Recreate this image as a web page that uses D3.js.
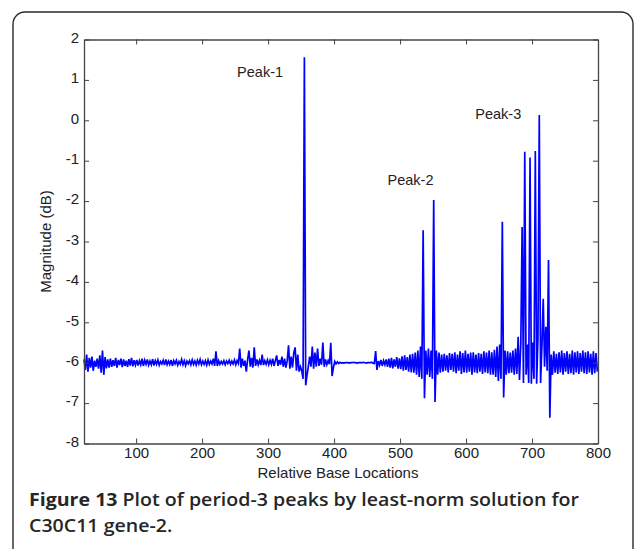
<!DOCTYPE html>
<html>
<head>
<meta charset="utf-8">
<script src="https://cdn.jsdelivr.net/npm/d3@7"></script>
<style>
  body { margin: 0; background: #fff; }
  svg { display: block; }
</style>
</head>
<body>
<svg id="fig" width="635" height="549"></svg>
<script>

// relative base locations are sampled every 2 bases from 21 to 799
let firstBase = 21, baseStep = 2;

// magnitude (dB), one value per sampled base location
let magnitude = [
    // 21 - 59
    -5.92,-6.18,-5.80,-6.22,-5.88,-6.12,-5.85,-6.20,-5.95,-6.10,
    -5.90,-6.15,-5.82,-6.25,-5.70,-6.30,-5.86,-6.14,-5.92,-6.12,
    // 61 - 99
    -5.90,-6.10,-5.94,-6.08,-5.88,-6.12,-5.93,-6.06,-5.90,-6.11,
    -5.92,-6.08,-5.95,-6.10,-5.91,-6.07,-5.88,-6.09,-5.94,-6.06,
    // 101 - 139
    -5.93,-6.07,-5.95,-6.05,-5.90,-6.08,-5.94,-6.04,-5.92,-6.06,
    -5.96,-6.05,-5.91,-6.07,-5.95,-6.04,-5.93,-6.06,-5.97,-6.03,
    // 141 - 179
    -5.94,-6.06,-5.92,-6.05,-5.96,-6.04,-5.93,-6.08,-5.95,-6.03,
    -5.94,-6.06,-5.97,-6.04,-5.92,-6.05,-5.95,-6.07,-5.96,-6.03,
    // 181 - 219
    -5.95,-6.05,-5.93,-6.04,-5.96,-6.06,-5.94,-6.03,-5.92,-6.05,
    -5.96,-6.04,-5.95,-6.06,-5.93,-6.04,-5.96,-6.03,-5.90,-6.08,
    // 221 - 259
    -5.72,-6.08,-5.95,-6.04,-5.97,-6.03,-5.95,-6.05,-5.96,-6.02,
    -5.94,-6.04,-5.96,-6.03,-5.93,-6.05,-5.95,-6.02,-5.65,-6.12,
    // 261 - 299
    -5.90,-6.08,-5.95,-6.22,-5.92,-5.70,-6.10,-5.88,-6.12,-5.62,
    -6.08,-5.92,-6.05,-5.94,-6.06,-5.80,-6.06,-5.95,-6.04,-5.93,
    // 301 - 339
    -6.05,-5.94,-6.04,-5.90,-6.08,-5.95,-5.82,-6.08,-5.93,-6.05,
    -5.85,-6.10,-5.90,-6.12,-5.95,-5.57,-6.15,-5.85,-6.12,-5.75,
    // 341 - 379 (peak-1)
    -5.62,-6.20,-5.80,-6.22,-6.10,-6.20,-6.40, 1.56,-6.56,-6.30,
    -6.10,-5.85,-6.10,-5.60,-6.15,-5.75,-6.10,-5.65,-6.08,-5.90,
    // 381 - 419
    -6.05,-5.50,-6.10,-5.92,-6.05,-5.95,-6.04,-5.51,-6.33,-6.12,
    -5.97,-6.03,-5.98,-6.02,-5.99,-6.01,-6.00,-6.01,-6.00,-6.00,
    // 421 - 459
    -6.00,-6.01,-6.00,-6.00,-5.99,-6.00,-6.00,-6.01,-6.00,-6.00,
    -6.00,-6.00,-5.99,-6.00,-6.01,-6.00,-6.00,-6.00,-5.99,-6.01,
    // 461 - 499
    -6.02,-5.71,-6.18,-5.96,-6.06,-5.93,-6.08,-5.95,-6.05,-5.92,
    -6.10,-5.90,-6.12,-5.88,-6.14,-5.92,-6.10,-5.86,-6.15,-5.89,
    // 501 - 539 (peak-2)
    -6.16,-5.84,-6.20,-5.82,-6.18,-5.86,-6.22,-5.80,-6.24,-5.78,
    -6.25,-5.75,-6.30,-5.70,-6.35,-5.60,-6.40,-2.72,-6.88,-5.70,
    // 541 - 579
    -6.30,-5.65,-6.35,-5.70,-6.40,-1.97,-6.97,-5.70,-6.30,-5.75,
    -6.25,-5.80,-6.22,-5.78,-6.20,-5.82,-6.24,-5.76,-6.18,-5.78,
    // 581 - 619
    -6.22,-5.74,-6.26,-5.80,-6.20,-5.72,-6.28,-5.76,-6.24,-5.70,
    -6.25,-5.78,-6.22,-5.75,-6.30,-5.74,-6.24,-5.80,-6.26,-5.76,
    // 621 - 659
    -6.22,-5.78,-6.28,-5.72,-6.24,-5.75,-6.26,-5.70,-6.30,-5.74,
    -6.30,-5.68,-6.35,-5.60,-6.45,-5.55,-6.40,-2.51,-6.86,-5.70,
    // 661 - 699 (peak-3)
    -6.30,-5.72,-6.26,-5.75,-6.25,-5.70,-6.30,-5.65,-6.28,-5.36,
    -6.43,-5.55,-2.64,-6.50,-0.78,-6.30,-5.55,-6.50,-0.92,-6.52,
    // 701 - 739
    -5.50,-6.40,-0.76,-6.52,-5.40, 0.13,-6.50,-5.60,-4.42,-6.10,
    -5.11,-6.20,-3.46,-7.36,-5.80,-6.30,-5.72,-6.25,-5.78,-6.28,
    // 741 - 779
    -5.74,-6.24,-5.70,-6.30,-5.76,-6.22,-5.72,-6.28,-5.78,-6.26,
    -5.70,-6.30,-5.74,-6.24,-5.72,-6.28,-5.76,-6.22,-5.70,-6.26,
    // 781 - 799
    -5.74,-6.28,-5.72,-6.24,-5.78,-6.30,-5.72,-6.26,-5.76,-6.22
];

let xTicks = [100, 200, 300, 400, 500, 600, 700, 800];
let yTicks = [-8, -7, -6, -5, -4, -3, -2, -1, 0, 1, 2];

let peakNames = ['Peak-1', 'Peak-2', 'Peak-3'];
let peakAnchorBase = [253, 481, 614];
let peakAnchorMag = [1.19, -1.48, 0.15];

let xTitle = 'Relative Base Locations';
let yTitle = 'Magnitude (dB)';
let captionBold = 'Figure 13';
let captionRest = ' Plot of period-3 peaks by least-norm solution for';
let captionLine2 = 'C30C11 gene-2.';

main();

function main() {
    let svg = d3.select('#fig');
    let box = {left: 84, right: 598, top: 39.5, bottom: 443.5};

    let x = d3.scaleLinear().domain([21, 800]).range([box.left, box.right]);
    let y = d3.scaleLinear().domain([-8, 2]).range([box.bottom, box.top]);

    let points = magnitude.map((m, i) => ({base: firstBase + i*baseStep, mag: m}));

    // frame round figure
    svg.append('rect')
        .attr('x', 13).attr('y', 12)
        .attr('width', 620).attr('height', 580)
        .attr('rx', 12)
        .attr('fill', 'none')
        .attr('stroke', '#2a2a2a')
        .attr('stroke-width', 1.4);

    let line = d3.line().x(d => x(d.base)).y(d => y(d.mag));
    svg.append('path')
        .datum(points)
        .attr('d', line)
        .attr('fill', 'none')
        .attr('stroke', '#0000ff')
        .attr('stroke-width', 1.7)
        .attr('stroke-linejoin', 'miter');

    const font = '"Liberation Sans", Arial, Helvetica, sans-serif';
    const axisColor = '#444';
    const plain = d => String(d);   // keep the hyphen minus of the original

    // axes, ticks pointing in, on all four sides
    let bottomAxis = d3.axisBottom(x).tickValues(xTicks).tickSizeInner(-5).tickSizeOuter(0).tickPadding(4).tickFormat(plain);
    let topAxis = d3.axisTop(x).tickValues(xTicks).tickSizeInner(-5).tickSizeOuter(0).tickFormat('');
    let leftAxis = d3.axisLeft(y).tickValues(yTicks).tickSizeInner(-5).tickSizeOuter(0).tickPadding(5).tickFormat(plain);
    let rightAxis = d3.axisRight(y).tickValues(yTicks).tickSizeInner(-5).tickSizeOuter(0).tickFormat('');

    let axes = [
        svg.append('g').attr('transform', `translate(0,${box.bottom})`).call(bottomAxis),
        svg.append('g').attr('transform', `translate(0,${box.top})`).call(topAxis),
        svg.append('g').attr('transform', `translate(${box.left},0)`).call(leftAxis),
        svg.append('g').attr('transform', `translate(${box.right},0)`).call(rightAxis)
    ];
    axes.forEach(g => {
        g.select('.domain').attr('stroke', axisColor).attr('stroke-width', 1.3);
        g.selectAll('.tick line').attr('stroke', axisColor).attr('stroke-width', 1);
        g.selectAll('.tick text')
            .attr('fill', '#222')
            .style('font-family', font)
            .style('font-size', '15px');
    });
    axes[2].selectAll('.tick text').attr('dy', '0.18em');

    svg.append('text')
        .attr('x', (box.left + box.right)/2 - 3)
        .attr('y', 478)
        .attr('text-anchor', 'middle')
        .attr('fill', '#222')
        .style('font-family', font)
        .style('font-size', '15px')
        .text(xTitle);

    svg.append('text')
        .attr('transform', `translate(51,${(box.top + box.bottom)/2}) rotate(-90)`)
        .attr('text-anchor', 'middle')
        .attr('fill', '#222')
        .style('font-family', font)
        .style('font-size', '15px')
        .text(yTitle);

    svg.selectAll('text.peak')
        .data(peakNames)
        .enter().append('text')
        .attr('class', 'peak')
        .attr('x', (d, i) => x(peakAnchorBase[i]))
        .attr('y', (d, i) => y(peakAnchorMag[i]))
        .attr('dy', '0.35em')
        .attr('fill', '#222')
        .style('font-family', font)
        .style('font-size', '14.5px')
        .text(d => d);

    // caption, squeezed to the width of the original typeface
    const capFont = '"Open Sans", "Noto Sans", sans-serif';
    let cap1 = svg.append('text')
        .attr('x', 29).attr('y', 505.5)
        .attr('fill', '#262626')
        .style('font-family', capFont)
        .style('font-size', '17.5px');
    cap1.append('tspan').style('font-weight', 700).text(captionBold);
    cap1.append('tspan').style('font-weight', 600).text(captionRest);

    let cap2 = svg.append('text')
        .attr('x', 29).attr('y', 532)
        .attr('fill', '#262626')
        .style('font-family', capFont)
        .style('font-size', '17.5px')
        .style('font-weight', 600)
        .text(captionLine2);

    let squeeze = 550 / cap1.node().getComputedTextLength();
    cap1.attr('textLength', 550).attr('lengthAdjust', 'spacingAndGlyphs');
    cap2.attr('textLength', cap2.node().getComputedTextLength()*squeeze).attr('lengthAdjust', 'spacingAndGlyphs');
}
</script>
</body>
</html>
